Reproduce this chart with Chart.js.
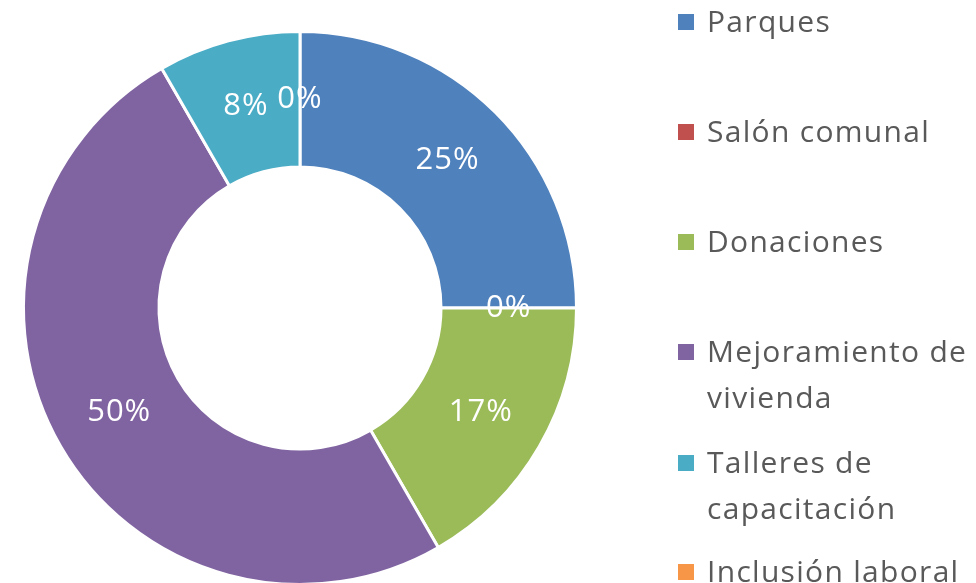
<!DOCTYPE html>
<html>
<head>
<meta charset="utf-8">
<script src="https://cdn.jsdelivr.net/npm/chart.js@4"></script>
<style>
  html, body { margin: 0; padding: 0; background: #fff; overflow: hidden; }
  #wrap { position: relative; width: 976px; height: 620px; }
</style>
</head>
<body>
<div id="wrap"><canvas id="dona"></canvas></div>
<script>
const categorias = ['Parques', 'Salón comunal', 'Donaciones', 'Mejoramiento de vivienda', 'Talleres de capacitación', 'Inclusión laboral'];
const valores = [3, 0, 2, 6, 1, 0];
const colores = ['#4F81BD', '#C0504D', '#9BBB59', '#8064A2', '#4BACC6', '#F79646'];
// legend lines, wrapped as they appear
const lineasLeyenda = [['Parques'], ['Salón comunal'], ['Donaciones'], ['Mejoramiento de', 'vivienda'], ['Talleres de', 'capacitación'], ['Inclusión laboral']];

const fuente = '"Open Sans", sans-serif';

// percentage labels at the middle of each ring segment
const etiquetas = {
    id: 'etiquetas',
    afterDatasetsDraw(chart) {
        const ctx = chart.ctx;
        const total = valores.reduce((a, b) => a + b, 0);
        const meta = chart.getDatasetMeta(0);
        ctx.save();
        ctx.font = '31px ' + fuente;
        ctx.letterSpacing = '1px';
        ctx.fillStyle = '#ffffff';
        ctx.textAlign = 'center';
        ctx.textBaseline = 'middle';
        meta.data.forEach((arc, i) => {
            const p = arc.getCenterPoint();
            const pct = Math.round(valores[i] / total * 100) + '%';
            ctx.fillText(pct, p.x, p.y);
        });
        ctx.restore();
    }
};

// legend on the right side
const leyenda = {
    id: 'leyenda',
    afterDraw(chart) {
        const ctx = chart.ctx;
        const x0 = 678, xt = 707;
        const filas = [22, 132, 242, 352, 463, 572];
        const alto = 46;
        ctx.save();
        ctx.font = '30px ' + fuente;
        ctx.letterSpacing = '1.3px';
        ctx.textBaseline = 'middle';
        ctx.textAlign = 'left';
        lineasLeyenda.forEach((lineas, i) => {
            const y = filas[i];
            ctx.fillStyle = colores[i];
            ctx.fillRect(x0, y - 8, 16, 16);
            ctx.fillStyle = '#595959';
            lineas.forEach((t, j) => ctx.fillText(t, xt, y + 1 + j * alto));
        });
        ctx.restore();
    }
};

new Chart(document.getElementById('dona'), {
    type: 'doughnut',
    data: {
        labels: categorias,
        datasets: [{
            data: valores,
            backgroundColor: colores,
            borderColor: '#ffffff',
            borderWidth: 3
        }]
    },
    options: {
        responsive: true,
        maintainAspectRatio: false,
        animation: false,
        cutout: '51%',
        layout: { padding: { left: 22, top: 30, right: 398, bottom: 34 } },
        plugins: {
            legend: { display: false },
            tooltip: { enabled: false }
        }
    },
    plugins: [etiquetas, leyenda]
});
</script>
</body>
</html>
